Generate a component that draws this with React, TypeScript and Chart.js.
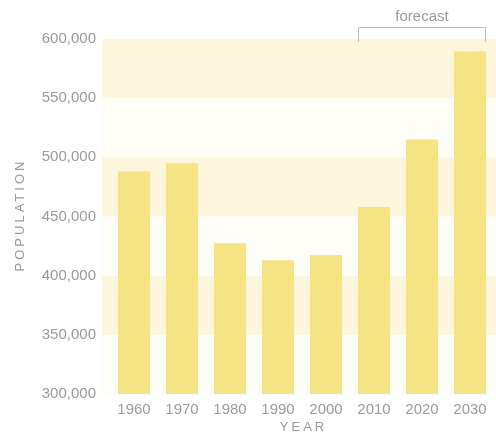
import React, { useEffect, useRef } from "react";
import { Chart, registerables } from "chart.js";

Chart.register(...registerables);

const years = ["1960", "1970", "1980", "1990", "2000", "2010", "2020", "2030"];
const population = [488000, 495000, 427500, 413000, 417500, 458000, 515000, 589500];
const yTicks = [300000, 350000, 400000, 450000, 500000, 550000, 600000];
const forecastStart = 5;
const forecastEnd = 7;

const TEXT = "#9a9a9a";
const BAR = "#f4e483";
const BAND_DARK = "#fdf6dd";
const BAND_LIGHT = "#fefdf8";

const fmt = (v: number) => v.toLocaleString("en-US");

const decorPlugin = {
  id: "decor",
  beforeDraw(chart: any) {
    const { ctx, chartArea, scales } = chart;
    const y = scales.y;
    ctx.save();
    for (let i = 0; i < yTicks.length - 1; i++) {
      const top = y.getPixelForValue(yTicks[i + 1]);
      const bot = y.getPixelForValue(yTicks[i]);
      ctx.fillStyle = i % 2 === 0 ? BAND_LIGHT : BAND_DARK;
      ctx.fillRect(chartArea.left - 8, top, chartArea.right - chartArea.left + 10, bot - top);
    }
    ctx.restore();
  },
  afterDraw(chart: any) {
    const { ctx, chartArea, scales } = chart;
    const x = scales.x;
    const meta = chart.getDatasetMeta(0);
    const b0: any = meta.data[forecastStart];
    const b1: any = meta.data[forecastEnd];
    const left = Math.round(b0.x - b0.width / 2) + 0.5;
    const right = Math.round(b1.x + b1.width / 2) - 0.5;
    ctx.save();
    ctx.strokeStyle = "#bdbdbd";
    ctx.lineWidth = 1;
    ctx.beginPath();
    ctx.moveTo(left, 42);
    ctx.lineTo(left, 27.5);
    ctx.lineTo(right, 27.5);
    ctx.lineTo(right, 42);
    ctx.stroke();
    ctx.fillStyle = TEXT;
    ctx.font = "15px 'Liberation Sans', Arial, sans-serif";
    ctx.textAlign = "center";
    ctx.textBaseline = "middle";
    ctx.fillText("forecast", (left + right) / 2, 17);

    ctx.font = "13px 'Liberation Sans', Arial, sans-serif";
    (ctx as any).letterSpacing = "3px";
    ctx.textAlign = "center";
    ctx.fillText("YEAR", (chartArea.left + chartArea.right) / 2 + 1.5, 427);
    ctx.translate(20, (chartArea.top + chartArea.bottom) / 2);
    ctx.rotate(-Math.PI / 2);
    ctx.fillText("POPULATION", 1.5, 0);
    ctx.restore();
    void x;
  },
};

export default function App() {
  const ref = useRef<HTMLCanvasElement>(null);
  useEffect(() => {
    document.body.style.margin = "0";
    const chart = new Chart(ref.current!, {
      type: "bar",
      data: {
        labels: years,
        datasets: [
          {
            data: population,
            backgroundColor: BAR,
            borderWidth: 0,
            categoryPercentage: 1,
            barPercentage: 0.667,
          },
        ],
      },
      options: {
        animation: false,
        responsive: false,
        devicePixelRatio: 1,
        layout: { padding: { top: 39, right: 2, left: 0, bottom: 0 } },
        plugins: { legend: { display: false }, tooltip: { enabled: false } },
        scales: {
          x: {
            grid: { display: false, drawTicks: false },
            border: { display: false },
            ticks: {
              color: TEXT,
              padding: 7,
              font: { family: "'Liberation Sans', Arial, sans-serif", size: 15 },
            },
            afterFit: (s: any) => {
              s.height = 41;
            },
          },
          y: {
            min: 300000,
            max: 600000,
            grid: { display: false, drawTicks: false },
            border: { display: false },
            afterBuildTicks: (s: any) => {
              s.ticks = yTicks.map((v) => ({ value: v }));
            },
            ticks: {
              color: TEXT,
              padding: 14,
              callback: (v: any) => fmt(Number(v)),
              font: { family: "'Liberation Sans', Arial, sans-serif", size: 15 },
            },
            afterFit: (s: any) => {
              s.width = 110;
            },
          },
        },
      },
      plugins: [decorPlugin],
    });
    return () => chart.destroy();
  }, []);
  return (
    <div style={{ width: 496, height: 435 }}>
      <canvas ref={ref} width={496} height={435} style={{ display: "block" }} />
    </div>
  );
}
